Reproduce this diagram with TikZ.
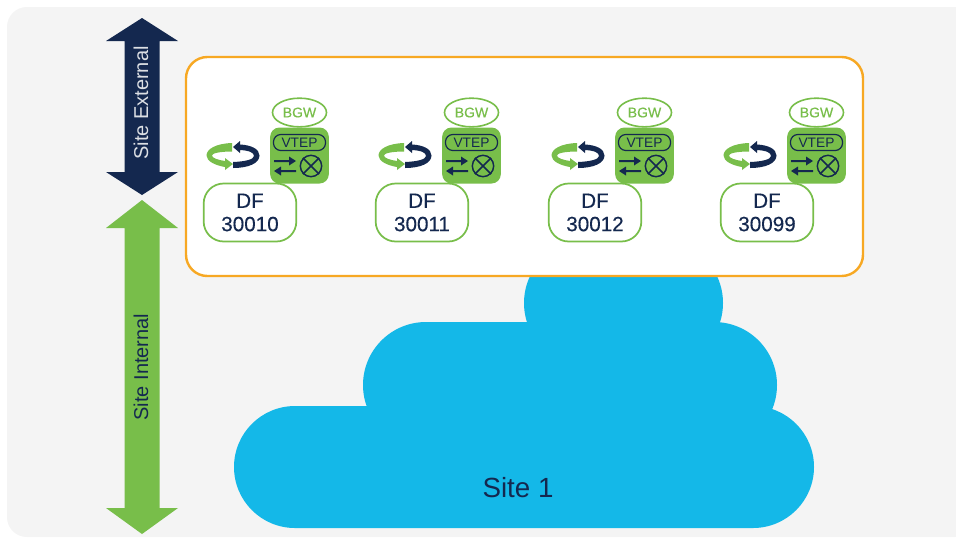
\documentclass[tikz,border=0pt]{standalone}
\usepackage{fontspec}
\setmainfont{Liberation Sans}
\newfontfamily\medfont[FakeBold=0.35]{Liberation Sans}
\usetikzlibrary{shapes.geometric}
\definecolor{navy}{HTML}{14284F}
\definecolor{leaf}{HTML}{78BE4A}
\definecolor{sky}{HTML}{14B8E8}
\definecolor{amber}{HTML}{F7A823}
\definecolor{pale}{HTML}{F4F4F4}
\tikzset{
  tag/.style={draw=leaf,line width=1.3pt,fill=white,rounded corners=15pt,minimum width=69.5pt,minimum height=43.5pt,align=center,font=\medfont\fontsize{15.5}{17.5}\selectfont,text=navy,inner sep=0pt},
  bgw/.style={ellipse,draw=leaf,line width=1.2pt,fill=white,minimum width=40.5pt,minimum height=21.5pt,inner sep=0pt,font=\medfont\fontsize{10.5}{12}\selectfont,text=leaf},
  vtepbox/.style={fill=leaf,rounded corners=7pt,minimum width=44pt,minimum height=42pt,inner sep=0pt},
  vteplabel/.style={draw=navy,line width=.9pt,rounded corners=5.5pt,minimum width=39pt,minimum height=12pt,inner sep=0pt,font=\fontsize{10.3}{12}\selectfont,text=navy},
  cloudpart/.style={fill=sky},
  sidearrow/.style={fill=#1},
  sidetext/.style={rotate=90,font=\fontsize{15}{17}\selectfont},
}
\newcommand{\siteunit}[3]{%
  \begin{scope}[shift={(#1,0)}]
    \node[tag] (df#2) at (250,212.5) {DF\\#3};
    \node[vtepbox] (box#2) at (299.5,155.5) {};
    \node[bgw] (bgw#2) at (299.5,112.5) {BGW};
    \node[vteplabel] (vtep#2) at (299.5,142.5) {VTEP};
    \node[circle,draw=navy,line width=1.1pt,minimum size=16pt,inner sep=0pt] (x#2) at (311,166) {};
    \draw[navy,line width=1.1pt] (x#2.45)--(x#2.225) (x#2.135)--(x#2.315);
    \fill[navy] (274,160) -- (289,160) -- (289,156.5) -- (296,161) -- (289,165.5) -- (289,162) -- (274,162) -- cycle;
    \fill[navy] (296,170) -- (281,170) -- (281,166.5) -- (274,171) -- (281,175.5) -- (281,172) -- (296,172) -- cycle;
    \fill[leaf] (232,143) .. controls (216,143.5) and (206.5,149) .. (206.5,155.5) .. controls (206.5,161.5) and (216,165.5) .. (225,167) -- (225,170) -- (233,164) -- (225,158) -- (225,161) .. controls (218,160) and (212,158) .. (212,155.5) .. controls (212,153) and (221,151.5) .. (232,151.5) -- cycle;
    \fill[navy] (233,168) .. controls (249,168) and (259.5,163) .. (259.5,155.5) .. controls (259.5,149) and (251,145) .. (240,144.5) -- (240,141) -- (233,147) -- (240,153) -- (240,150) .. controls (249,150.5) and (254,152.5) .. (254,156) .. controls (254,159.5) and (245,161.5) .. (233,162) -- cycle;
  \end{scope}}
\begin{document}
\begin{tikzpicture}[x=0.75pt,y=-0.75pt]
\useasboundingbox (0,0) rectangle (956,537);
\fill[white] (0,0) rectangle (956,537);
\fill[pale,rounded corners=15pt] (7,7) rectangle (975,537);
\fill[white] (956,0) rectangle (990,537);
% cloud
\fill[cloudpart] (587,303) circle[radius=47.25pt] (660,303) circle[radius=47.25pt] (587,240) rectangle (660,366);
\fill[cloudpart] (426,385) circle[radius=47.25pt] (714,385) circle[radius=47.25pt] (426,322) rectangle (714,448);
\fill[cloudpart] (295,467) circle[radius=45.75pt] (753,467) circle[radius=45.75pt] (295,406) rectangle (753,528);
\node[font=\fontsize{20.8}{24}\selectfont,text=navy] (site) at (518,488) {Site 1};
% side arrows
\fill[sidearrow=navy] (142,18) -- (178,41) -- (159.5,41) -- (159.5,172) -- (178,172) -- (142,195) -- (106,172) -- (124.5,172) -- (124.5,41) -- (106,41) -- cycle;
\node[sidetext,text=white!85!navy] (ext) at (141,103) {Site External};
\fill[sidearrow=leaf] (142,200) -- (178,228) -- (159.5,228) -- (159.5,508) -- (178,508) -- (142,534) -- (106,508) -- (124.5,508) -- (124.5,228) -- (106,228) -- cycle;
\node[sidetext,text=navy] (int) at (141,367) {Site Internal};
% frame
\draw[amber,line width=1.8pt,fill=white,rounded corners=16pt] (186,57) rectangle (863,276);
\siteunit{0}{a}{30010}
\siteunit{172}{b}{30011}
\siteunit{345}{c}{30012}
\siteunit{517}{d}{30099}
\end{tikzpicture}
\end{document}
